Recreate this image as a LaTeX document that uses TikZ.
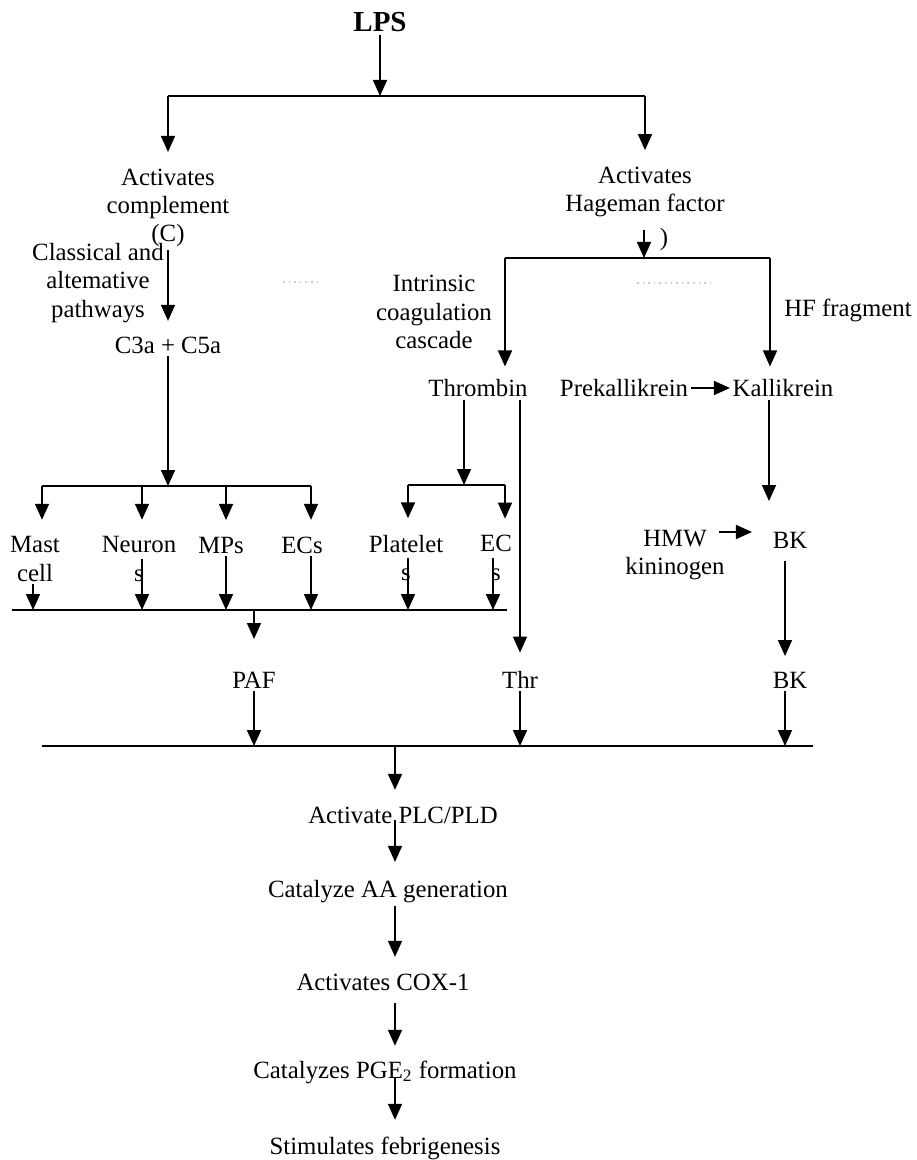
\documentclass[tikz,border=0pt]{standalone}
\usepackage{fontspec}
\setmainfont{Liberation Serif}
\usetikzlibrary{arrows.meta}

\begin{document}
\begin{tikzpicture}[x=0.5pt,y=-0.5pt,line width=0.8pt,
  >={Triangle[width=7pt,length=8pt]},
  txt/.style={inner sep=1pt,align=center,font=\fontsize{12.4}{14.2}\selectfont},
  gap/.style={shorten >=7pt}]
  \useasboundingbox (0,0) rectangle (916,1160);

  % text
  \node[txt,font=\fontsize{14.5}{16}\selectfont\bfseries] (lps) at (380,22) {LPS};
  \node[txt] (comp) at (168,208) {Activates\\complement\\(C)};
  \node[txt] (path) at (98,283) {Classical and\\altemative\\pathways};
  \node[txt] (c35) at (168,345) {C3a + C5a};
  \node[txt] (hf) at (645,192) {Activates\\Hageman factor};
  \node[txt] (paren) at (664,240) {)};
  \node[txt] (intr) at (434,312) {Intrinsic\\coagulation\\cascade};
  \node[txt] (hffrag) at (848,310) {HF fragment};
  \node[txt] (thromb) at (478,388) {Thrombin};
  \node[txt] (prek) at (624,388) {Prekallikrein};
  \node[txt] (kall) at (783,388) {Kallikrein};
  \node[txt] (mast) at (35,559) {Mast\\cell};
  \node[txt] (neur) at (139,559) {Neuron\\s};
  \node[txt] (mps) at (221,545) {MPs};
  \node[txt] (ecs) at (302,545) {ECs};
  \node[txt] (plat) at (406,558) {Platelet\\s};
  \node[txt] (ec2) at (496,558) {EC\\s};
  \node[txt] (hmw) at (675,555) {HMW\\kininogen};
  \node[txt] (bk) at (790,540) {BK};
  \node[txt] (bk2) at (790,680) {BK};
  \node[txt] (paf) at (254,680) {PAF};
  \node[txt] (thr) at (520,680) {Thr};
  \node[txt] (plc) at (403,815) {Activate PLC/PLD};
  \node[txt] (aa) at (388,892) {Catalyze AA generation};
  \node[txt] (cox) at (383,982) {Activates COX-1};
  \node[txt] (pge) at (385,1072) {Catalyzes PGE\textsubscript{2} formation};
  \node[txt] (feb) at (385,1148) {Stimulates febrigenesis};

  % bar ends
  \coordinate (tbL) at (168,96);  \coordinate (tbM) at (380,96);  \coordinate (tbR) at (645,96);
  \coordinate (c1L) at (42,486);  \coordinate (c1M) at (168,486); \coordinate (c1R) at (311,486);
  \coordinate (c1b) at (142,486); \coordinate (c1c) at (226,486);
  \coordinate (t1L) at (408,485); \coordinate (t1M) at (464,485); \coordinate (t1R) at (505,485);
  \coordinate (hbL) at (505,258); \coordinate (hbM) at (644,258); \coordinate (hbR) at (770,258);
  \coordinate (lbL) at (12,610);  \coordinate (lbM) at (254,610); \coordinate (lbR) at (507,610);
  \coordinate (l1) at (33,610);   \coordinate (l2) at (142,610);  \coordinate (l3) at (226,610);
  \coordinate (l4) at (311,610);  \coordinate (l5) at (408,610);  \coordinate (l6) at (493,610);
  \coordinate (bbL) at (42,746);  \coordinate (bbM) at (395,746); \coordinate (bbR) at (813,746);
  \coordinate (kx) at (769,0);    \coordinate (bx) at (785,0);    \coordinate (hy) at (0,532);

  \draw (tbL) -- (tbR);
  \draw (c1L) -- (c1R);
  \draw (t1L) -- (t1R);
  \draw (hbL) -- (hbR);
  \draw (lbL) -- (lbR);
  \draw (bbL) -- (bbR);

  \path[->]
    (lps) edge (tbM)
    (tbL) edge [gap] (comp)
    (tbR) edge [gap] (hf)
    (comp) edge [shorten >=6.5pt] (c35)
    (c35) edge (c1M)
    (c1L) edge [gap] (c1L |- mast.north)
    (c1b) edge [gap] (c1b |- neur.north)
    (c1c) edge [gap] (c1c |- mps.north)
    (c1R) edge [gap] (c1R |- ecs.north)
    (thromb.south -| t1M) edge (t1M)
    (t1L) edge [gap] (t1L |- plat.north)
    (t1R) edge [gap] (t1R |- ec2.north)
    (hf.south -| hbM) edge [shorten <=5pt] (hbM)
    (hbL) edge [shorten >=5pt] (hbL |- thromb.north)
    (hbR) edge [shorten >=5pt] (hbR |- kall.north)
    (prek) edge (kall)
    (kall.south -| kx) edge [shorten >=14pt] (kx |- bk.north)
    (hmw.east |- hy) edge [shorten <=-4pt,shorten >=9pt] (bk.west |- hy)
    (bk.south -| bx) edge [shorten <=5pt,shorten >=6.5pt] (bx |- bk2.north);

  \path[->]
    (mast.south -| l1) edge (l1)
    (neur.center -| l2) edge (l2)
    (mps.south -| l3) edge (l3)
    (ecs.south -| l4) edge (l4)
    (plat.center -| l5) edge (l5)
    (ec2.center -| l6) edge (l6)
    (lbM) edge [shorten >=15pt] (paf)
    (thr |- thromb.south) edge [shorten >=8pt] (thr)
    (paf) edge (paf |- bbL)
    (thr) edge (thr |- bbL)
    (bk2.south -| bx) edge (bx |- bbR);

  \path[->]
    (bbM) edge [gap] (bbM |- plc.north)
    (plc.south -| bbM) edge [shorten <=-3pt,shorten >=8pt] (bbM |- aa.north)
    (aa.south -| bbM) edge [gap] (bbM |- cox.north)
    (cox.south -| bbM) edge [shorten <=5pt,shorten >=6pt] (bbM |- pge.north)
    (pge.south -| bbM) edge [shorten <=-4pt,gap] (bbM |- feb.north);

  % faint scan marks
  \draw[gray!40,dotted] (283,282) -- (320,282);
  \draw[gray!40,dotted] (637,283) -- (713,283);
\end{tikzpicture}
\end{document}
